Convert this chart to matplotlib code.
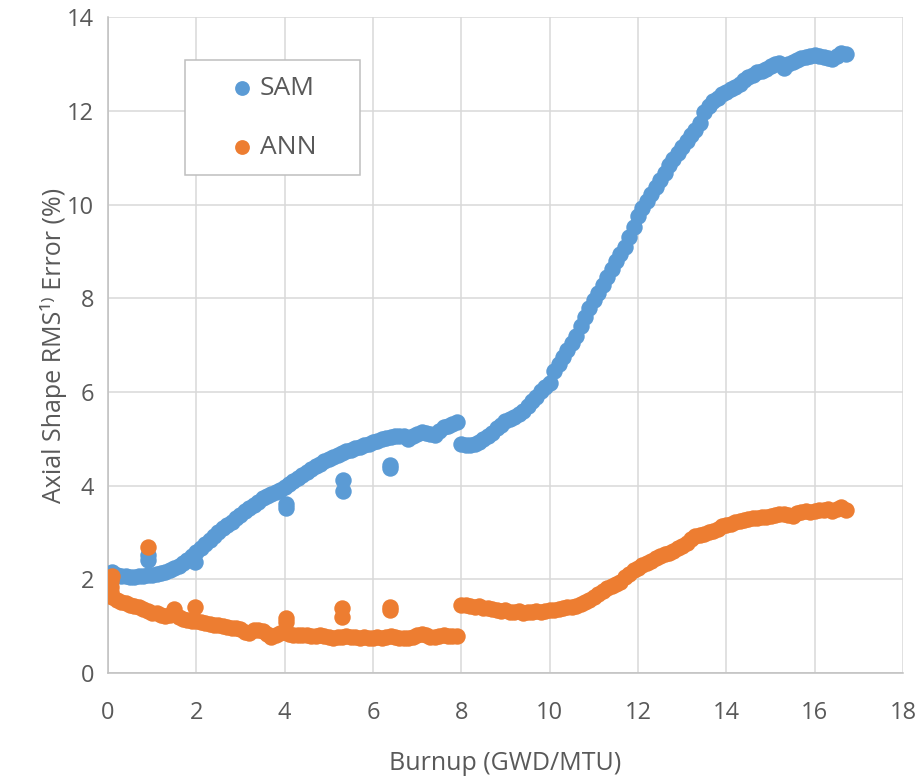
import numpy as np
import matplotlib
matplotlib.use("Agg")
import matplotlib.pyplot as plt
from matplotlib.patches import Rectangle

plt.rcParams["font.family"] = ["Open Sans", "DejaVu Sans"]

# burnup steps (GWD/MTU)
burnup = [
    0.1, 0.2, 0.3, 0.4, 0.5, 0.6, 0.7, 0.8, 0.9, 1.0,
    1.1, 1.2, 1.3, 1.4, 1.5, 1.6, 1.7, 1.8, 1.9, 2.0,
    2.1, 2.2, 2.3, 2.4, 2.5, 2.6, 2.7, 2.8, 2.9, 3.0,
    3.1, 3.2, 3.3, 3.4, 3.5, 3.6, 3.7, 3.8, 3.9, 4.0,
    4.1, 4.2, 4.3, 4.4, 4.5, 4.6, 4.7, 4.8, 4.9, 5.0,
    5.1, 5.2, 5.3, 5.4, 5.5, 5.6, 5.7, 5.8, 5.9, 6.0,
    6.1, 6.2, 6.3, 6.4, 6.5, 6.6, 6.7, 6.8, 6.9, 7.0,
    7.1, 7.2, 7.3, 7.4, 7.5, 7.6, 7.7, 7.8, 7.9, 8.0,
    8.1, 8.2, 8.3, 8.4, 8.5, 8.6, 8.7, 8.8, 8.9, 9.0,
    9.1, 9.2, 9.3, 9.4, 9.5, 9.6, 9.7, 9.8, 9.9, 10.0,
    10.1, 10.2, 10.3, 10.4, 10.5, 10.6, 10.7, 10.8, 10.9, 11.0,
    11.1, 11.2, 11.3, 11.4, 11.5, 11.6, 11.7, 11.8, 11.9, 12.0,
    12.1, 12.2, 12.3, 12.4, 12.5, 12.6, 12.7, 12.8, 12.9, 13.0,
    13.1, 13.2, 13.3, 13.4, 13.5, 13.6, 13.7, 13.8, 13.9, 14.0,
    14.1, 14.2, 14.3, 14.4, 14.5, 14.6, 14.7, 14.8, 14.9, 15.0,
    15.1, 15.2, 15.3, 15.4, 15.5, 15.6, 15.7, 15.8, 15.9, 16.0,
    16.1, 16.2, 16.3, 16.4, 16.5, 16.6, 16.7,
]

sam = [
    2.15, 2.10, 2.08, 2.07, 2.05, 2.04, 2.06, 2.08, 2.10, 2.10,
    2.11, 2.13, 2.16, 2.20, 2.24, 2.29, 2.35, 2.42, 2.50, 2.58,
    2.66, 2.75, 2.84, 2.92, 3.01, 3.09, 3.16, 3.23, 3.30, 3.37,
    3.45, 3.52, 3.59, 3.66, 3.73, 3.78, 3.82, 3.86, 3.91, 3.97,
    4.04, 4.10, 4.17, 4.23, 4.29, 4.35, 4.42, 4.47, 4.52, 4.56,
    4.62, 4.66, 4.70, 4.74, 4.77, 4.80, 4.83, 4.86, 4.89, 4.92,
    4.96, 4.99, 5.02, 5.04, 5.06, 5.06, 5.05, 5.00, 5.06, 5.11,
    5.14, 5.12, 5.10, 5.07, 5.16, 5.24, 5.28, 5.32, 5.35, 4.88,
    4.86, 4.86, 4.88, 4.93, 4.99, 5.06, 5.13, 5.22, 5.30, 5.37,
    5.42, 5.47, 5.53, 5.60, 5.70, 5.80, 5.90, 6.02, 6.10, 6.18,
    6.45, 6.60, 6.75, 6.90, 7.05, 7.20, 7.40, 7.60, 7.80, 7.97,
    8.12, 8.28, 8.45, 8.62, 8.80, 8.95, 9.10, 9.30, 9.52, 9.75,
    9.92, 10.07, 10.22, 10.38, 10.53, 10.68, 10.85, 10.98, 11.10, 11.22,
    11.35, 11.48, 11.60, 11.75, 11.98, 12.10, 12.20, 12.28, 12.35, 12.41,
    12.46, 12.50, 12.58, 12.66, 12.72, 12.77, 12.82, 12.86, 12.90, 12.95,
    12.99, 13.02, 12.92, 13.00, 13.04, 13.08, 13.12, 13.14, 13.16, 13.20,
    13.18, 13.14, 13.12, 13.10, 13.18, 13.24, 13.22,
]

ann = [
    1.62, 1.56, 1.52, 1.49, 1.46, 1.43, 1.40, 1.36, 1.32, 1.29,
    1.27, 1.24, 1.22, 1.24, 1.36, 1.20, 1.16, 1.14, 1.12, 1.10,
    1.09, 1.07, 1.05, 1.03, 1.02, 1.00, 0.98, 0.96, 0.95, 0.93,
    0.88, 0.86, 0.92, 0.91, 0.89, 0.84, 0.76, 0.82, 0.85, 0.88,
    0.84, 0.82, 0.80, 0.81, 0.80, 0.79, 0.78, 0.80, 0.78, 0.76,
    0.75, 0.77, 0.76, 0.78, 0.77, 0.76, 0.75, 0.76, 0.74, 0.75,
    0.76, 0.74, 0.77, 0.78, 0.76, 0.74, 0.75, 0.74, 0.77, 0.80,
    0.84, 0.80, 0.77, 0.76, 0.78, 0.80, 0.79, 0.78, 0.78, 1.45,
    1.46, 1.44, 1.40, 1.42, 1.38, 1.39, 1.36, 1.34, 1.33, 1.35,
    1.31, 1.30, 1.32, 1.29, 1.31, 1.30, 1.32, 1.31, 1.33, 1.34,
    1.35, 1.36, 1.38, 1.40, 1.41, 1.44, 1.48, 1.52, 1.56, 1.62,
    1.68, 1.76, 1.82, 1.86, 1.89, 1.95, 2.04, 2.12, 2.19, 2.25,
    2.30, 2.34, 2.39, 2.45, 2.50, 2.54, 2.57, 2.61, 2.66, 2.71,
    2.78, 2.85, 2.92, 2.95, 2.97, 3.00, 3.04, 3.08, 3.13, 3.16,
    3.19, 3.22, 3.25, 3.26, 3.28, 3.30, 3.31, 3.33, 3.34, 3.36,
    3.38, 3.39, 3.40, 3.38, 3.36, 3.41, 3.44, 3.45, 3.44, 3.46,
    3.47, 3.48, 3.50, 3.45, 3.50, 3.55, 3.48,
]

# scattered off-trend points
sam_extra_x = [0.9, 0.9, 1.98, 4.02, 4.02, 5.33, 5.33, 6.38, 6.38]
sam_extra_y = [2.52, 2.42, 2.36, 3.60, 3.52, 4.12, 3.88, 4.44, 4.37]
ann_extra_x = [0.06, 0.07, 0.08, 0.1, 0.9, 1.98, 4.02, 4.02, 5.3, 5.3, 6.38, 6.38]
ann_extra_y = [1.72, 1.84, 1.96, 2.06, 2.68, 1.41, 1.17, 1.08, 1.38, 1.20, 1.40, 1.34]

BLUE = "#5B9BD5"
ORANGE = "#ED7D31"
TEXT = "#595959"

fig, ax = plt.subplots(figsize=(9.18, 7.78), dpi=100)
fig.subplots_adjust(left=0.1176, right=0.9837, bottom=0.135, top=0.978)

ax.scatter(np.concatenate([burnup, sam_extra_x]), np.concatenate([sam, sam_extra_y]),
           s=140, color=BLUE, linewidths=0, label="SAM", zorder=3)
ax.scatter(np.concatenate([burnup, ann_extra_x]), np.concatenate([ann, ann_extra_y]),
           s=140, color=ORANGE, linewidths=0, label="ANN", zorder=4)

ax.set_xlim(0, 18)
ax.set_ylim(0, 14)
ax.set_xticks(range(0, 19, 2))
ax.set_yticks(range(0, 15, 2))
ax.grid(True, color="#D9D9D9", linewidth=1.1)
ax.set_axisbelow(True)
for side in ["top", "right"]:
    ax.spines[side].set_visible(False)
for side in ["left", "bottom"]:
    ax.spines[side].set_color("#BFBFBF")
    ax.spines[side].set_linewidth(1.1)

ax.tick_params(axis="both", length=0, labelsize=17, labelcolor=TEXT)
ax.tick_params(axis="x", pad=20)
ax.tick_params(axis="y", pad=10)

ax.set_xlabel("Burnup (GWD/MTU)", fontsize=18, color=TEXT, labelpad=19)
ax.set_ylabel("Axial Shape RMS\u00b9\u207e Error (%)", fontsize=18, color=TEXT, labelpad=0)

# legend frame box, legend entries centred inside it
ax.add_patch(Rectangle((0.097, 0.759), 0.220, 0.175, transform=ax.transAxes,
                       facecolor="white", edgecolor="#BFBFBF", linewidth=1.1, zorder=5))
leg = ax.legend(loc="center", bbox_to_anchor=(0.207, 0.8465), frameon=False,
                fontsize=19, labelspacing=1.3, handletextpad=0.2, handlelength=1.0,
                markerscale=0.9)
leg.set_zorder(6)
for t in leg.get_texts():
    t.set_color(TEXT)

fig.savefig("out.png", dpi=100)
